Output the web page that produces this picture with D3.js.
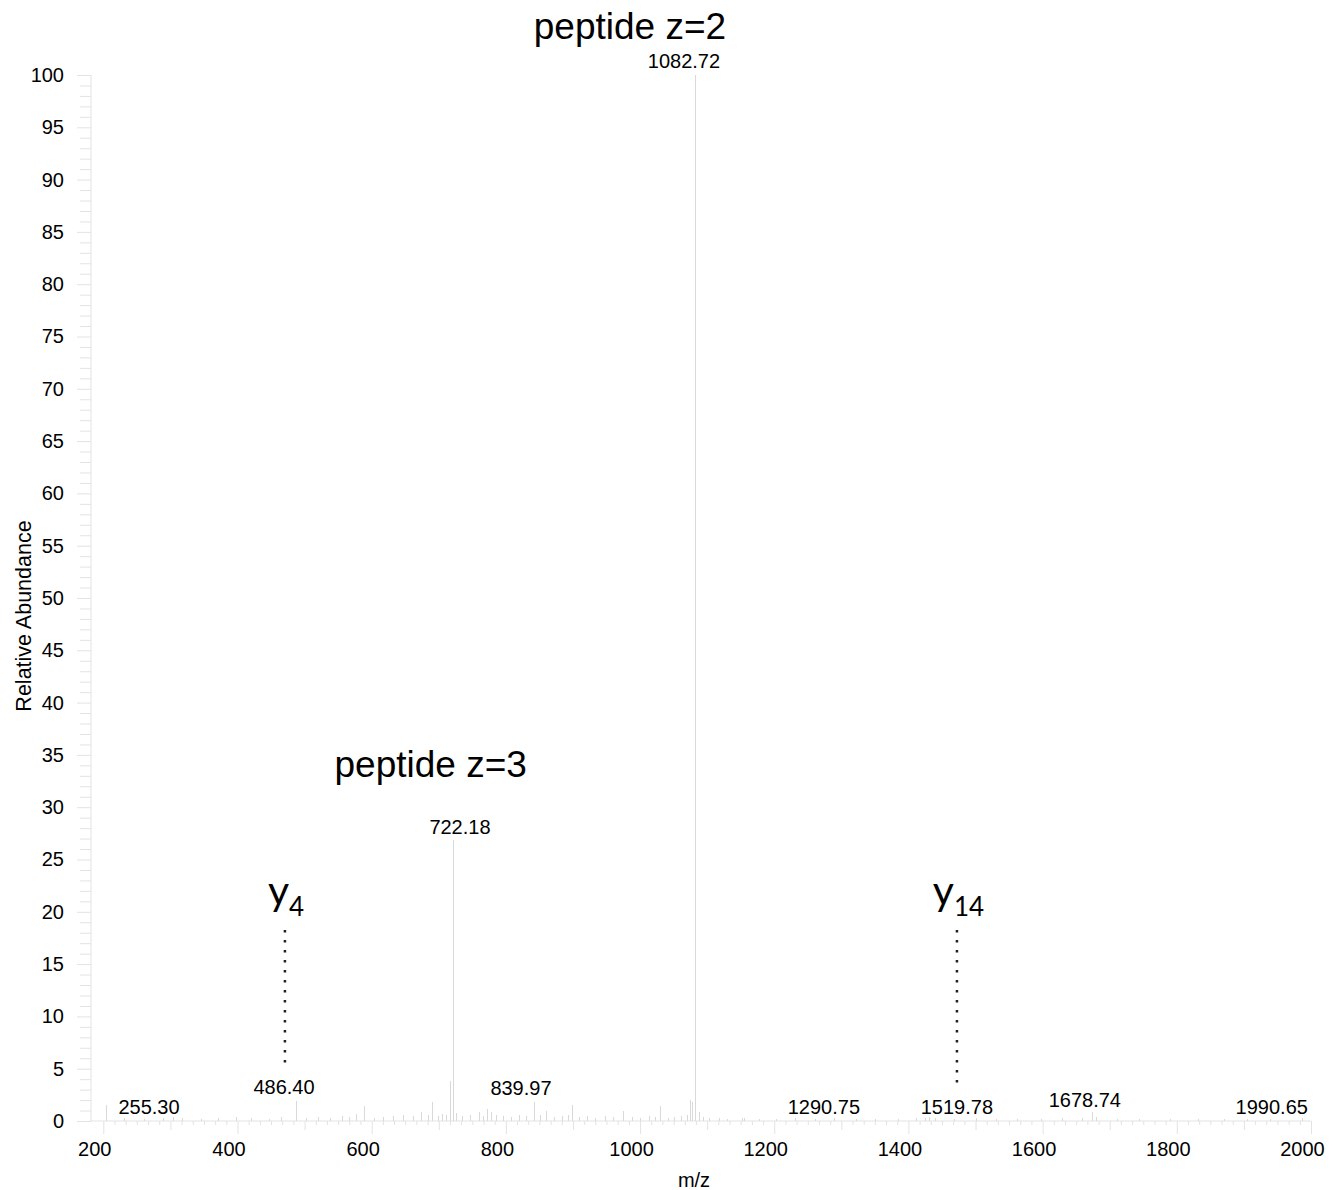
<!DOCTYPE html>
<html>
<head>
<meta charset="utf-8">
<script src="https://cdn.jsdelivr.net/npm/d3@7"></script>
<style>
  html, body { margin: 0; padding: 0; background: #fff; }
  svg { display: block; }
</style>
</head>
<body>
<svg id="chart" width="1333" height="1190"></svg>
<script>
// ---------- data ----------
const peakMz = [205, 231, 262, 289, 305, 318, 347, 372, 398, 421, 447, 466, 488.5, 503, 521, 538, 556, 567, 578, 590,
  604, 617, 633, 648, 662, 674.5, 684, 691, 700, 706, 712, 717.7, 722.18, 727, 735, 748, 761, 767, 772, 779, 786, 797,
  808, 820, 831, 842, 851, 861, 872, 884, 893, 899.6, 910, 921, 934, 948, 961, 976, 988, 1001, 1014, 1023, 1030.7,
  1042, 1051, 1062, 1070, 1075.8, 1077.8, 1082.72, 1088, 1095, 1104, 1118, 1131, 1152, 1156, 1178, 1203, 1231, 1262,
  1290, 1322, 1351, 1385, 1412, 1425, 1432, 1440, 1468, 1502, 1531, 1563, 1598, 1630, 1660, 1675, 1681, 1712, 1745,
  1790, 1832, 1871, 1905, 1940, 1988];
const peakAb = [1.5, 0.3, 0.2, 0.3, 0.4, 0.3, 0.2, 0.3, 0.4, 0.3, 0.2, 0.4, 1.9, 0.3, 0.4, 0.3, 0.5, 0.4, 0.7, 1.4,
  0.3, 0.4, 0.5, 0.6, 0.5, 0.9, 0.6, 1.8, 0.5, 0.7, 0.6, 3.85, 26.9, 0.8, 0.5, 0.6, 0.9, 0.5, 1.15, 0.9, 0.6, 0.5,
  0.4, 0.6, 0.5, 1.85, 0.6, 1.0, 0.4, 0.5, 0.6, 1.5, 0.4, 0.5, 0.3, 0.5, 0.4, 1.0, 0.4, 0.3, 0.5, 0.4, 1.4,
  0.3, 0.4, 0.5, 0.6, 2.0, 1.85, 100, 0.85, 0.4, 0.3, 0.3, 0.2, 0.3, 0.3, 0.2, 0.2, 0.3, 0.2,
  0.3, 0.2, 0.2, 0.2, 0.3, 0.3, 0.4, 0.3, 0.2, 0.3, 0.2, 0.2, 0.2, 0.3, 0.3, 0.9, 0.4, 0.2, 0.2,
  0.2, 0.2, 0.2, 0.2, 0.2, 0.3];

// peak m/z labels: text, anchor m/z (centre), anchor abundance (baseline)
const labelText = ["1082.72", "722.18", "255.30", "486.40", "839.97", "1290.75", "1519.78", "1678.74", "1990.65"];
const labelMz   = [1065.4, 731.6, 268.1, 469.3, 822.5, 1274, 1472.2, 1662.9, 1941.5];
const labelAb   = [100.67, 27.44, 0.67, 2.58, 2.49, 0.67, 0.67, 1.34, 0.67];

// big annotations
const annoText = ["peptide z=2", "peptide z=3"];
const annoMz   = [985, 688];
const annoAb   = [103.4, 32.9];

// fragment ion annotations with dotted markers
const ionMain  = ["y", "y"];
const ionSub   = ["4", "14"];
const ionTextMz = [445.4, 1436.4];
const ionTextAb = [20.65, 20.65];
const ionLineMz = [470.7, 1472.3];
const ionLineTop = [18.26, 18.26];
const ionLineBottom = [4.88, 3.15];

const xMajorTicks = [200, 400, 600, 800, 1000, 1200, 1400, 1600, 1800, 2000];
const yMajorTicks = [0, 5, 10, 15, 20, 25, 30, 35, 40, 45, 50, 55, 60, 65, 70, 75, 80, 85, 90, 95, 100];

// ---------- drawing ----------
const svg = d3.select("#chart");
const x = d3.scaleLinear().domain([200, 2000]).range([103.3, 1311]);
const y = d3.scaleLinear().domain([0, 100]).range([1121, 75]);
const axisColor = "#e3e3e3";
const numFont = "'Liberation Sans', Arial, sans-serif";

svg.append("rect").attr("width", 1333).attr("height", 1190).attr("fill", "#fff");

// x axis
const xMinor = d3.range(200, 2001, 100 / 6).map(v => Math.round(v * 100) / 100)
  .filter(v => Math.abs(v % 100) > 0.5 && Math.abs(v % 100) < 99.5);
const xMid = d3.range(300, 2000, 200);
const gx = svg.append("g").attr("transform", `translate(0,${y(0)})`);
gx.call(d3.axisBottom(x).tickValues(xMinor).tickSize(4).tickFormat(""));
gx.call(g => g.append("g").call(d3.axisBottom(x).tickValues(xMid).tickSize(9).tickFormat("")));
gx.call(g => g.append("g").call(d3.axisBottom(x).tickValues(xMajorTicks).tickSize(13).tickFormat(d3.format("d"))));
gx.selectAll("path.domain").remove();
gx.selectAll("line").attr("stroke", axisColor);
gx.selectAll("text").attr("fill", "#000").attr("font-size", 20).attr("font-family", numFont)
  .attr("dx", -9).attr("y", 21);
gx.append("line").attr("x1", 90).attr("x2", x(2000)).attr("y1", 0).attr("y2", 0).attr("stroke", axisColor);

// y axis
const gy = svg.append("g").attr("transform", "translate(91,0)");
gy.call(d3.axisLeft(y).tickValues(d3.range(0, 101, 1).filter(v => v % 5 !== 0)).tickSize(11).tickFormat(""));
gy.call(g => g.append("g").call(d3.axisLeft(y).tickValues(yMajorTicks).tickSize(14).tickFormat(d3.format("d"))));
gy.selectAll("path.domain").remove();
gy.selectAll("line").attr("stroke", axisColor);
gy.selectAll("text").attr("fill", "#000").attr("font-size", 20).attr("font-family", numFont).attr("x", -27);
gy.append("line").attr("x1", 0).attr("x2", 0).attr("y1", y(0)).attr("y2", y(100)).attr("stroke", axisColor);

// axis titles
svg.append("text").attr("x", 694).attr("y", 1187).attr("text-anchor", "middle")
  .attr("font-family", numFont).attr("font-size", 20).text("m/z");
svg.append("text").attr("transform", "translate(31,616) rotate(-90)").attr("text-anchor", "middle")
  .attr("font-family", numFont).attr("font-size", 21.5).text("Relative Abundance");

// peaks
svg.append("g").selectAll("line").data(peakMz).join("line")
  .attr("x1", d => x(d)).attr("x2", d => x(d))
  .attr("y1", y(0)).attr("y2", (d, i) => y(peakAb[i]))
  .attr("stroke", "#d9d9d9").attr("stroke-width", 1).attr("shape-rendering", "crispEdges");

// peak labels
svg.append("g").selectAll("text").data(labelText).join("text")
  .attr("x", (d, i) => x(labelMz[i])).attr("y", (d, i) => y(labelAb[i]))
  .attr("text-anchor", "middle").attr("font-family", numFont).attr("font-size", 20)
  .attr("fill", "#000").text(d => d);

// big annotations
svg.append("g").selectAll("text").data(annoText).join("text")
  .attr("x", (d, i) => x(annoMz[i])).attr("y", (d, i) => y(annoAb[i]))
  .attr("text-anchor", "middle").attr("font-family", numFont).attr("font-size", 37)
  .attr("fill", "#000").text(d => d);

// ion annotations
const ions = svg.append("g").selectAll("text").data(ionMain).join("text")
  .attr("x", (d, i) => x(ionTextMz[i])).attr("y", (d, i) => y(ionTextAb[i]))
  .attr("font-family", "Lato, 'Open Sans', sans-serif").attr("font-size", 41).attr("fill", "#000");
ions.append("tspan").text(d => d);
ions.append("tspan").attr("font-size", 26).attr("dy", 11).text((d, i) => ionSub[i]);

svg.append("g").selectAll("line").data(ionLineMz).join("line")
  .attr("x1", d => x(d)).attr("x2", d => x(d))
  .attr("y1", (d, i) => y(ionLineTop[i])).attr("y2", (d, i) => y(ionLineBottom[i]))
  .attr("stroke", "#222").attr("stroke-width", 2.5).attr("stroke-dasharray", "2.5 7.5");
</script>
</body>
</html>
